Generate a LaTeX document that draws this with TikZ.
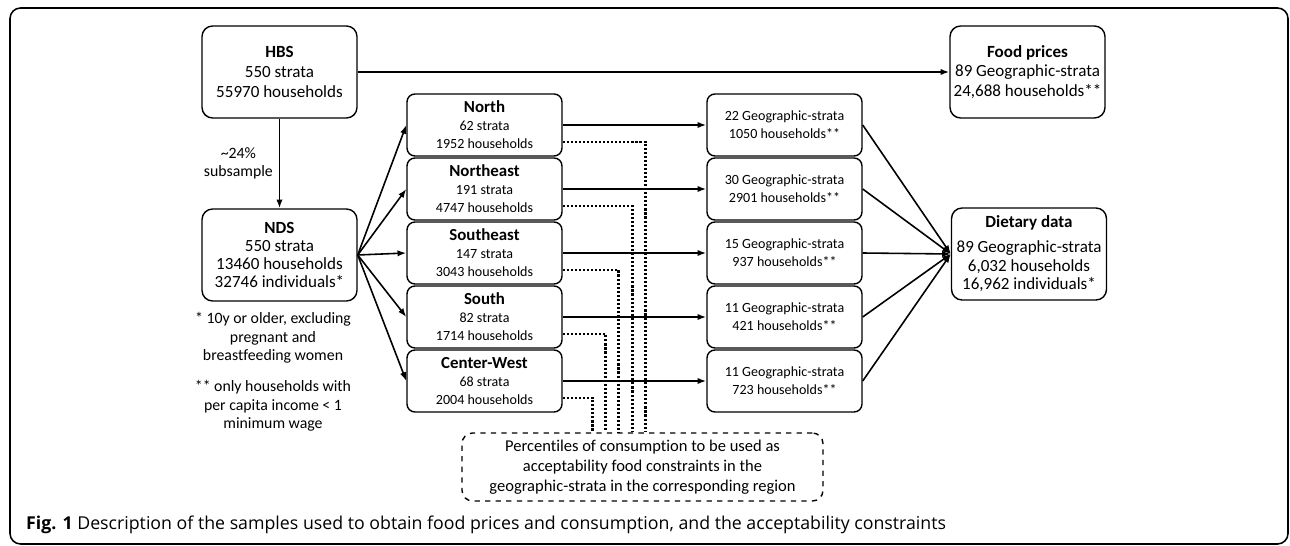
\documentclass[tikz,border=0pt]{standalone}
\usepackage{fontspec}
\setmainfont{Carlito}[Ligatures=NoCommon]
\newfontfamily\capfont{Open Sans}
\usetikzlibrary{arrows.meta}

\newcommand{\rtitle}[1]{{\fontsize{9.6}{10.2}\selectfont\bfseries #1}}

\tikzset{
  bigbox/.style={draw, line width=0.8pt, rounded corners=6pt, minimum width=3.1cm,
    minimum height=1.84cm, align=center, inner sep=1pt,
    font=\fontsize{9.7}{11.3}\selectfont},
  regbox/.style={draw, line width=0.8pt, rounded corners=4.5pt, minimum width=3.1cm,
    minimum height=1.24cm, align=center, inner sep=1pt,
    font=\fontsize{8}{10.2}\selectfont},
  link/.style={line width=0.9pt, -{Latex[length=5pt,width=3.6pt]}},
  dotlink/.style={line width=1.2pt, dash pattern=on 1.2pt off 1.1pt},
  note/.style={align=center, font=\fontsize{9}{10.5}\selectfont},
}

\begin{document}
\begin{tikzpicture}[x=0.02cm, y=-0.02cm]
  \useasboundingbox (0,0) rectangle (1290,546);
  \draw[line width=0.9pt, rounded corners=6pt] (10,8) rectangle (1288,544);

  % surveys
  \node[bigbox] (hbs) at (279.5,72) {\textbf{HBS}\\550 strata\\55970 households};
  \node[bigbox, font=\fontsize{9.7}{10.2}\selectfont] (nds) at (279.5,255)
    {\textbf{NDS}\\550 strata\\13460 households\\32746 individuals*};
  \node[bigbox] (food) at (1027.5,72) {\textbf{Food prices}\\89 Geographic-strata\\24,688 households**};
  \node[bigbox, font=\fontsize{9.7}{10.8}\selectfont] (diet) at (1029,254)
    {\textbf{Dietary data}\\[3pt]89 Geographic-strata\\6,032 households\\16,962 individuals*};

  % regions
  \foreach \nm/\y/\ttl/\st/\hh in {north/125/North/62/1952, neast/189/Northeast/191/4747,
      seast/253/Southeast/147/3043, south/317/South/82/1714, cwest/381/Center-West/68/2004}
    \node[regbox] (\nm) at (484.5,\y) {\rtitle{\ttl}\\\st\ strata\\\hh\ households};

  % geographic strata
  \foreach \nm/\y/\g/\hh in {g1/125/22/1050, g2/189/30/2901, g3/253/15/937,
      g4/317/11/421, g5/381/11/723}
    \node[regbox] (\nm) at (784.5,\y) {\g\ Geographic-strata\\\hh\ households**};

  \node[regbox, dashed, rounded corners=6pt, minimum width=7.22cm, minimum height=1.36cm,
    font=\fontsize{9.4}{11.3}\selectfont] (pct) at (642.5,467)
    {Percentiles of consumption to be used as\\acceptability food constraints in the\\geographic-strata in the corresponding region};

  % footnotes
  \node[note] (fn1) at (273,338) {* 10y or older, excluding\\pregnant and\\breastfeeding women};
  \node[note] (fn2) at (273,406) {** only households with\\per capita income < 1\\minimum wage};

  % connectors
  \draw[link] (hbs) -- node[left, note, midway] {\textasciitilde 24\%\\subsample} (nds);
  \draw[link] (hbs) -- (food);
  \foreach \r in {north, neast, seast, south, cwest}
    \draw[link] (nds.east) -- (\r.west);
  \foreach \r/\g in {north/g1, neast/g2, seast/g3, south/g4, cwest/g5}
    \draw[link] (\r) -- (\g);
  \foreach \g in {g1, g2, g3, g4, g5}
    \draw[link] (\g.east) -- (diet.west);
  \foreach \r/\dx in {north/0.06, neast/-0.2, seast/-0.48, south/-0.74, cwest/-1.0}
    \draw[dotlink] ([yshift=0.3cm]\r.south east) -| ([xshift=\dx cm]pct.north);

  \node[anchor=west, font=\capfont\fontsize{10.1}{11}\selectfont] (cap) at (20,525)
    {\textbf{Fig. 1} Description of the samples used to obtain food prices and consumption, and the acceptability constraints};
\end{tikzpicture}
\end{document}
